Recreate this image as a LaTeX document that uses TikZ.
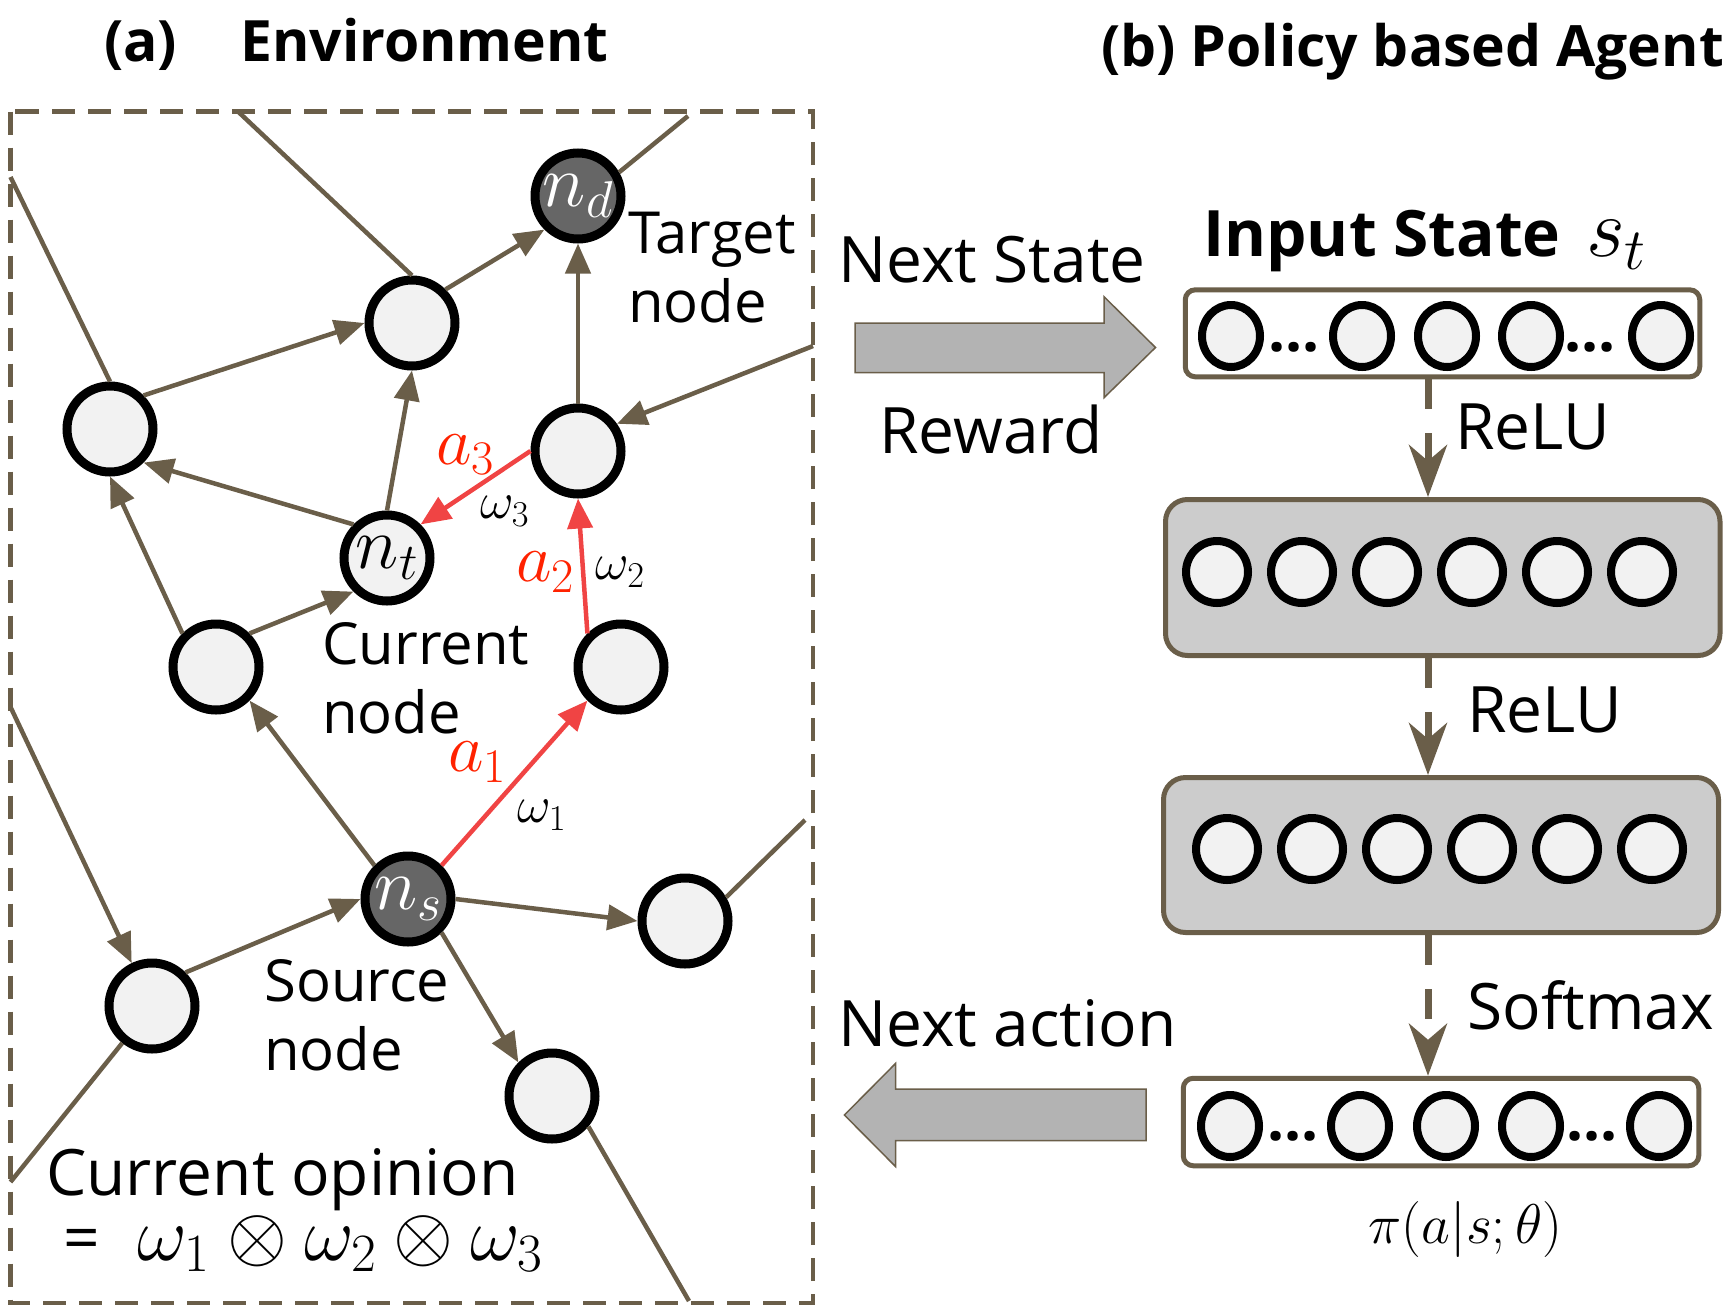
\RequirePackage{fix-cm}
\documentclass[tikz,border=0pt]{standalone}
\usepackage[no-math]{fontspec}
\setmainfont{Open Sans}
\usetikzlibrary{arrows.meta,shapes.geometric}

\definecolor{edgebrown}{RGB}{106,94,73}
\definecolor{nodegray}{RGB}{242,242,242}
\definecolor{darknode}{RGB}{102,102,102}
\definecolor{actred}{RGB}{240,68,68}
\definecolor{lblred}{RGB}{255,34,0}
\definecolor{layergray}{RGB}{204,204,204}
\definecolor{arrowgray}{RGB}{179,179,179}

\begin{document}
\begin{tikzpicture}[x=1pt,y=-1pt,
        vertex/.style={circle,draw=black,line width=9pt,fill=nodegray,
            minimum size=86pt,inner sep=0pt,font=\fontsize{74}{74}\selectfont},
        target/.style={vertex,fill=darknode,text=white},
        link/.style={draw=edgebrown,line width=4.5pt},
        edge/.style={link,-{Triangle[length=30pt,width=25pt]}},
        act/.style={edge,draw=actred},
        lbl/.style={font=\fontsize{58}{69}\selectfont,align=left,
            anchor=base west,inner sep=0pt},
        big/.style={font=\fontsize{64}{64}\selectfont,anchor=base west,inner sep=0pt},
        head/.style={font=\fontsize{57}{57}\selectfont\bfseries,inner sep=0pt},
        albl/.style={text=lblred,font=\fontsize{69}{69}\selectfont,inner sep=0pt},
        wlbl/.style={font=\fontsize{52}{52}\selectfont,inner sep=0pt},
        layer/.style={draw=edgebrown,line width=5pt,rounded corners=22pt,
            fill=layergray,inner sep=0pt},
        io/.style={layer,rounded corners=10pt,fill=white},
        neuron/.style={ellipse,draw=black,line width=8pt,fill=nodegray,
            minimum width=58pt,minimum height=62pt,inner sep=0pt},
        hidden/.style={circle,draw=black,line width=8pt,fill=nodegray,
            minimum size=62pt,inner sep=0pt},
        dots/.style={font=\fontsize{60}{60}\selectfont\bfseries,anchor=base,inner sep=0pt},
        flow/.style={draw=edgebrown,line width=7pt,dash pattern=on 30pt off 24pt,
            -{Stealth[length=52pt,width=38pt,inset=16pt]}},
        bigarrow/.style={draw=edgebrown,line width=1.5pt,fill=arrowgray},
        frame/.style={draw=edgebrown,line width=4.5pt,dash pattern=on 23pt off 13pt}]
\useasboundingbox (0,0) rectangle (1730,1315);

% (a) the environment
\node[head,anchor=base west] (tita) at (104,61) {(a)};
\node[head,anchor=base west] (titenv) at (240,61) {Environment};
\draw[frame] (10.5,111.5) rectangle (813,1303);

\node[target] (nd) at (578,196) {$n_d$};
\node[vertex] (va) at (412,323) {};
\node[vertex] (vb) at (110,429) {};
\node[vertex] (vc) at (578,451) {};
\node[vertex] (nt) at (387,558) {$n_t$};
\node[vertex] (vd) at (216,667) {};
\node[vertex] (ve) at (621,667) {};
\node[target] (ns) at (408,899) {$n_s$};
\node[vertex] (vf) at (685,921) {};
\node[vertex] (vg) at (152,1006) {};
\node[vertex] (vh) at (552,1096) {};

% loose ends on the frame
\coordinate (o1) at (10.5,177);
\coordinate (o2) at (238,111.5);
\coordinate (o3) at (688,116);
\coordinate (o4) at (813,346);
\coordinate (o5) at (10.5,707);
\coordinate (o6) at (10.5,1182);
\coordinate (o7) at (805,820);
\coordinate (o8) at (689,1301);

\draw[link] (o1) -- (vb.north);
\draw[link] (o2) -- (va.north);
\draw[link] (nd.30) -- (o3);
\draw[edge] (o4) -- (vc.35);
\draw[edge] (o5) -- (vg);
\draw[link] (vg) -- (o6);
\draw[link] (vf.30) -- (o7);
\draw[link] (vh.-40) -- (o8);

\draw[edge] (vb.north east) -- (va.west);
\draw[edge] (va.north east) -- (nd.south west);
\draw[edge] (vc.north) -- (nd.south);
\draw[edge] (nt.north) -- (va.south);
\draw[edge] (nt.north west) -- (vb.south east);
\draw[edge] (vd.north west) -- (vb.south);
\draw[edge] (vd.north east) -- (nt.south west);
\draw[edge] (ns.north west) -- (vd.south east);
\draw[edge] (vg.north east) -- (ns.west);
\draw[edge] (ns.east) -- (vf.west);
\draw[edge] (ns.south east) -- (vh.north west);
\draw[act] (ns.north east) -- (ve.south west);
\draw[act] (ve.north west) -- (vc.south);
\draw[act] (vc.west) -- (nt.north east);

\node[albl] (la3) at (465.5,454.5) {$a_3$};
\node[wlbl] (lw3) at (504.5,511) {$\omega_3$};
\node[albl] (la2) at (545.5,572) {$a_2$};
\node[wlbl] (lw2) at (620,572) {$\omega_2$};
\node[albl] (la1) at (477.5,762) {$a_1$};
\node[wlbl] (lw1) at (541.5,815) {$\omega_1$};

\node[lbl] (lbltarget) at (628,322) {Target\\node};
\node[lbl] (lblcurrent) at (322,733) {Current\\node};
\node[lbl] (lblsource) at (264,1070) {Source\\node};
\node[big] (lblopinion) at (46,1195) {Current opinion};
\node[big] (lblprod) at (63,1260)
    {=\hspace{38pt}\fontsize{77}{77}\selectfont$\omega_1\otimes\omega_2\otimes\omega_3$};

% (b) the agent
\node[head,anchor=base east] (titb) at (1724,66.5) {(b) Policy based Agent};
\node[head,font=\fontsize{64}{64}\selectfont\bfseries,anchor=base west]
    (titin) at (1203,256.7) {Input State};
\node[big,font=\fontsize{84}{84}\selectfont] (lblst) at (1586,256.7) {$s_t$};

\draw[bigarrow] (855,323) -- (1104,323) -- (1104,296.7) -- (1155.5,347.5)
    -- (1104,397.7) -- (1104,372.5) -- (855,372.5) -- cycle;
\draw[bigarrow] (1146,1089) -- (895.5,1089) -- (895.5,1063.5) -- (844.4,1115)
    -- (895.5,1166.5) -- (895.5,1140.7) -- (1146,1140.7) -- cycle;
\node[big] (lblnext) at (838,282.8) {Next State};
\node[big] (lblreward) at (879,453.7) {Reward};
\node[big] (lblaction) at (838,1046.5) {Next action};

\node[io,minimum width=514.5pt,minimum height=87pt] (inlayer) at (1442.5,333.3) {};
\node[layer,minimum width=554.5pt,minimum height=156pt] (hid1) at (1442.75,577.5) {};
\node[layer,minimum width=555pt,minimum height=155pt] (hid2) at (1441,855) {};
\node[io,minimum width=515.5pt,minimum height=87.5pt] (outlayer) at (1441,1122) {};

\foreach \x [count=\i] in {1231,1362,1447,1531,1661}
    \node[neuron] (in\i) at (\x,336) {};
\foreach \x [count=\i] in {1230,1360,1446,1531,1659}
    \node[neuron] (out\i) at (\x,1126) {};
\foreach \i in {0,...,5}
    \node[hidden] (ha\i) at ({1217+85*\i},572) {};
\foreach \i in {0,...,5}
    \node[hidden] (hb\i) at ({1227+85*\i},849) {};
\node[dots] (indotsa) at (1294,351) {...};
\node[dots] (indotsb) at (1590,351) {...};
\node[dots] (outdotsa) at (1293,1140) {...};
\node[dots] (outdotsb) at (1592,1140) {...};

\coordinate (spine) at (1428,0);
\draw[flow] (inlayer.south -| spine) -- (hid1.north -| spine);
\draw[flow] (hid1.south -| spine) -- (hid2.north -| spine);
\draw[flow] (hid2.south -| spine) -- (outlayer.north -| spine);
\node[big] (lblrelua) at (1455,449.5) {ReLU};
\node[big] (lblrelub) at (1467,732.7) {ReLU};
\node[big] (lblsoft) at (1467,1029.6) {Softmax};
\node[font=\fontsize{56}{56}\selectfont] (lblpi) at (1465.5,1229) {$\pi(a|s;\theta)$};
\end{tikzpicture}
\end{document}
